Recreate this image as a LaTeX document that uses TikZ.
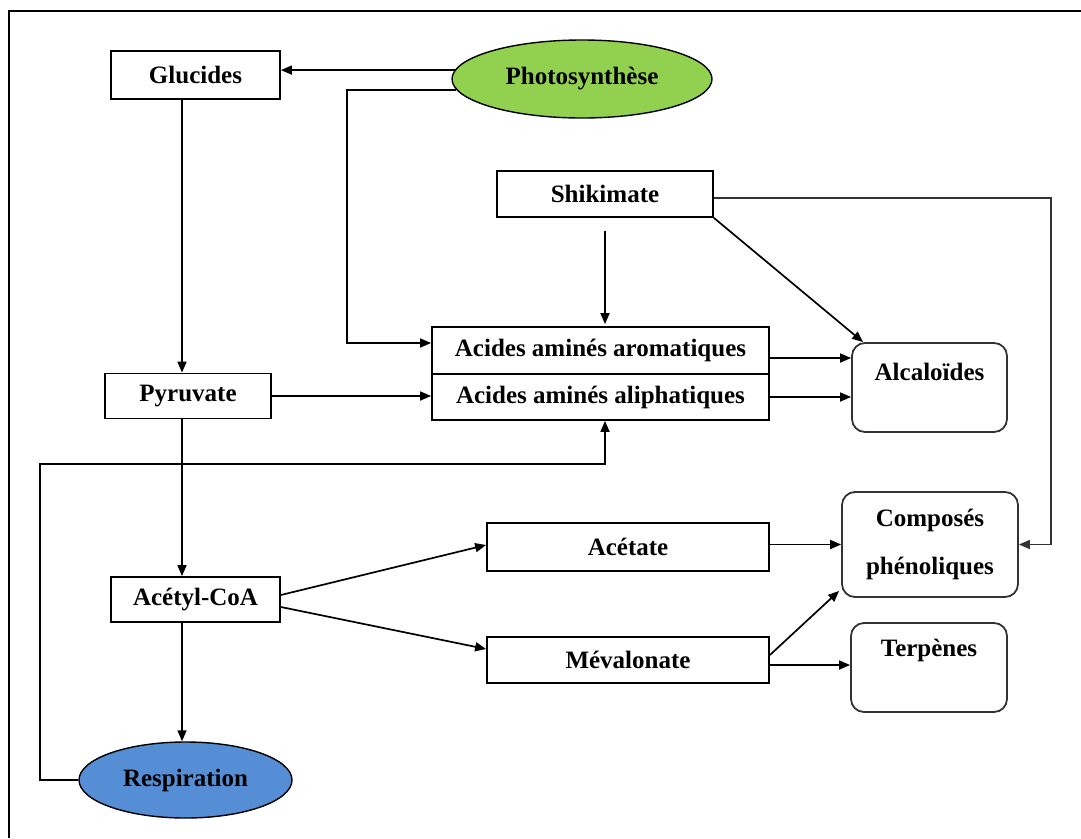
\documentclass[tikz,border=0pt]{standalone}
\usepackage{fontspec}
\setmainfont{Liberation Serif}
\usetikzlibrary{arrows.meta}
\definecolor{photogreen}{HTML}{92D050}
\definecolor{respblue}{HTML}{558ED5}
\tikzset{
  box/.style={draw, line width=1.8pt, inner sep=0pt, minimum width=#1, font=\fontsize{25}{29}\selectfont\bfseries},
  rbox/.style={draw=black!80, line width=1.8pt, rounded corners=13pt, inner sep=0pt},
  lbl/.style={inner sep=0pt, font=\fontsize{25}{29}\selectfont\bfseries},
  oval/.style={draw, ellipse, line width=1.4pt, inner sep=0pt, font=\fontsize{25}{29}\selectfont\bfseries},
  arr/.style={line width=1.7pt, -{Triangle[length=11pt,width=9pt]}},
}
\usetikzlibrary{shapes.geometric}
\begin{document}
\begin{tikzpicture}[x=1pt,y=-1pt]
\useasboundingbox (0,0) rectangle (1081,838);
% frame
\draw[line width=1.8pt] (9,838) -- (9,11) -- (1081,11);

% nodes
\node[box=169pt, minimum height=48pt] (gluc) at (195.5,75) {Glucides};
\node[oval, fill=photogreen, minimum width=260pt, minimum height=78pt] (photo) at (582,79) {Photosynth\`ese};
\node[box=216pt, minimum height=46pt] (shik) at (605,194) {Shikimate};
\node[box=337pt, minimum height=47pt] (arom) at (600.5,350.5) {Acides amin\'es aromatiques};
\node[box=337pt, minimum height=46pt] (aliph) at (600.5,397) {Acides amin\'es aliphatiques};
\node[box=166pt, minimum height=45pt] (pyr) at (188,396) {Pyruvate};
\node[box=169pt, minimum height=45pt] (acetyl) at (195.5,599.5) {Ac\'etyl-CoA};
\node[box=282pt, minimum height=48pt] (acetate) at (628,547) {Ac\'etate};
\node[box=282pt, minimum height=46pt] (mev) at (628,660) {M\'evalonate};
\node[oval, fill=respblue, minimum width=213pt, minimum height=76pt] (resp) at (185.5,780) {Respiration};

\node[rbox, minimum width=155pt, minimum height=89pt] (alc) at (929.5,387.5) {};
\node[lbl] (alct) at (929.5,372) {Alcalo\"ides};
\node[rbox, minimum width=176pt, minimum height=105pt, align=center, font=\fontsize{25}{29}\selectfont\bfseries] (comp) at (930,544.5) {Compos\'es\\[19pt]ph\'enoliques};
\node[rbox, minimum width=156pt, minimum height=89pt] (terp) at (929,667.5) {};
\node[lbl] (terpt) at (929,650) {Terp\`enes};

% helper coordinates
\coordinate (colA) at (182,0);
\coordinate (kP) at (347,343);
\coordinate (kR1) at (40,464);
\coordinate (kR2) at (605,464);
\coordinate (kS) at (1051,400);

% connectors
\draw[arr] (photo.176) -- (photo.176 -| gluc.east);
\draw[arr] (photo.185) -| (kP) -- (kP -| arom.west);
\draw[arr] (gluc.south -| colA) -- (pyr.north -| colA);
\draw[arr] (pyr.east) -- (pyr.east -| aliph.west);
\draw[arr] (pyr.south -| colA) -- (acetyl.north -| colA);
\draw[arr] (acetyl.south -| colA) -- (resp.north -| colA);
\draw[arr] (resp.west) -| (kR1) -- (kR2) -- (kR2 |- aliph.south);
\draw[arr, shorten <=13pt, shorten >=2pt] (shik.south) -- (shik.south |- arom.north);
\draw[arr] (shik.south east) -- ([xshift=12pt]alc.north west);
\draw[arr, black!80] ([yshift=-4pt]shik.east) -| (kS) |- (comp.east);
\draw[arr] ([yshift=-7.5pt]arom.east) -- ([yshift=-7.5pt]arom.east -| alc.west);
\draw[arr] (aliph.east) -- (aliph.east -| alc.west);
\draw[arr] ([yshift=4.5pt]acetyl.east) -- ([yshift=2pt]acetate.west);
\draw[arr] ([yshift=-7.5pt]acetyl.east) -- ([yshift=11pt]mev.west);
\draw[arr] (acetate.east |- comp.west) -- (comp.west);
\draw[arr] ([yshift=5pt]mev.east) -- ([xshift=-2pt,yshift=7pt]comp.south west);
\draw[arr] ([yshift=-5pt]mev.east) -- ([yshift=-5pt]mev.east -| terp.west);
\end{tikzpicture}
\end{document}
